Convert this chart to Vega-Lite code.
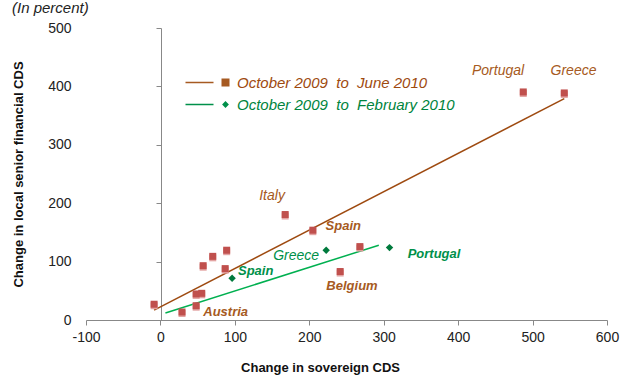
{
  "$schema": "https://vega.github.io/schema/vega-lite/v6.json",
  "width": 521,
  "height": 292,
  "autosize": {"type": "none"},
  "padding": {"left": 86, "top": 28, "right": 29, "bottom": 59},
  "background": "white",
  "config": {"font": "Liberation Sans", "view": {"stroke": null}, "axis": {"grid": false}},
  "title": {"text": "(In percent)", "anchor": "start", "frame": "group", "dx": -74, "offset": 5, "fontSize": 15, "fontStyle": "italic", "fontWeight": "normal", "color": "#222"},
  "datasets": {
    "lines": [
      {"series": "October 2009\u00a0 to\u00a0 June 2010", "x": -8.5, "y": 17},
      {"series": "October 2009\u00a0 to\u00a0 June 2010", "x": 542.6, "y": 379},
      {"series": "October 2009\u00a0 to\u00a0 February 2010", "x": 6.7, "y": 12},
      {"series": "October 2009\u00a0 to\u00a0 February 2010", "x": 293.4, "y": 128}
    ],
    "squares": [
      {"country": "", "x": -8.5, "y": 27},
      {"country": "Austria", "x": 29, "y": 13.7},
      {"country": "", "x": 48, "y": 24.5},
      {"country": "", "x": 48, "y": 44.6},
      {"country": "", "x": 55.5, "y": 45.7},
      {"country": "", "x": 57.4, "y": 93},
      {"country": "", "x": 70.3, "y": 109},
      {"country": "", "x": 87, "y": 88},
      {"country": "", "x": 89, "y": 119.5},
      {"country": "Italy", "x": 167.6, "y": 180.6},
      {"country": "Spain", "x": 204.8, "y": 153.8},
      {"country": "Belgium", "x": 241.5, "y": 83},
      {"country": "", "x": 268, "y": 125.7},
      {"country": "Portugal", "x": 487.5, "y": 390.5},
      {"country": "Greece", "x": 542.6, "y": 388.8}
    ],
    "diamonds": [
      {"country": "Spain", "x": 96.3, "y": 71.5},
      {"country": "Greece", "x": 222.7, "y": 119.5},
      {"country": "Portugal", "x": 307.8, "y": 124}
    ],
    "labelsNormal": [
      {"series": "October 2009\u00a0 to\u00a0 June 2010", "label": "Portugal", "x": 453.6, "y": 426},
      {"series": "October 2009\u00a0 to\u00a0 June 2010", "label": "Greece", "x": 555, "y": 426},
      {"series": "October 2009\u00a0 to\u00a0 June 2010", "label": "Italy", "x": 150, "y": 211.5},
      {"series": "October 2009\u00a0 to\u00a0 February 2010", "label": "Greece", "x": 182.4, "y": 110.3}
    ],
    "labelsBold": [
      {"series": "October 2009\u00a0 to\u00a0 June 2010", "label": "Spain", "x": 245.7, "y": 160.7},
      {"series": "October 2009\u00a0 to\u00a0 June 2010", "label": "Belgium", "x": 257.4, "y": 58.3},
      {"series": "October 2009\u00a0 to\u00a0 June 2010", "label": "Austria", "x": 87.6, "y": 14.3},
      {"series": "October 2009\u00a0 to\u00a0 February 2010", "label": "Spain", "x": 128, "y": 84},
      {"series": "October 2009\u00a0 to\u00a0 February 2010", "label": "Portugal", "x": 367.6, "y": 112.7}
    ]
  },
  "layer": [
    {
      "data": {"name": "lines"},
      "mark": {"type": "line", "strokeWidth": 1.5},
      "encoding": {
        "x": {"field": "x", "type": "quantitative", "scale": {"domain": [-100, 600], "nice": false},
          "axis": {"title": "Change in sovereign CDS", "values": [-100, 0, 100, 200, 300, 400, 500, 600], "labelExpr": "'' + datum.value", "labelFlush": false, "tickSize": 5, "labelPadding": 5, "domainColor": "#888", "tickColor": "#888", "labelFontSize": 14, "labelColor": "#222", "titleFontSize": 13, "titleFontWeight": "bold", "titleColor": "#111", "titlePadding": 17, "titleX": 234, "titleAlign": "center"}},
        "y": {"field": "y", "type": "quantitative", "scale": {"domain": [0, 500], "nice": false},
          "axis": {"title": "Change in local senior financial CDS", "offset": -75, "values": [0, 100, 200, 300, 400, 500], "labelFlush": false, "tickSize": 5, "labelPadding": 85, "domainColor": "#888", "tickColor": "#888", "labelFontSize": 14, "labelColor": "#222", "titleFontSize": 13, "titleFontWeight": "bold", "titleColor": "#111", "titlePadding": 22}},
        "stroke": {"field": "series", "type": "nominal",
          "scale": {"domain": ["October 2009\u00a0 to\u00a0 June 2010", "October 2009\u00a0 to\u00a0 February 2010"], "range": ["#9E4A10", "#00B050"]},
          "legend": {"orient": "none", "legendX": 132, "legendY": 47, "title": null, "symbolSize": 64, "symbolStrokeWidth": 0, "symbolOpacity": 1, "labelFontSize": 15, "labelFontStyle": "italic", "labelOffset": 4, "rowPadding": 6, "padding": 0, "labelLimit": 400,
            "encode": {
              "symbols": {"update": {
                "shape": {"signal": "indexof(datum.value, 'June') >= 0 ? 'M-10,-0.2H-3V0.2H-10Z M-1,-1H1V1H-1Z' : 'M-10,-0.2H-3V0.2H-10Z M0,-0.85L0.85,0L0,0.85L-0.85,0Z'"},
                "fill": {"signal": "indexof(datum.value, 'June') >= 0 ? '#9E4A0F' : '#007A3D'"},
                "strokeWidth": {"value": 0},
                "opacity": {"value": 1}
              }},
              "labels": {"update": {"fill": {"signal": "indexof(datum.value, 'June') >= 0 ? '#9E4A0F' : '#00843D'"}}}
            }}},
        "detail": {"field": "series"}
      }
    },
    {
      "data": {"name": "squares"},
      "mark": {"type": "point", "shape": "square", "filled": true, "size": 49, "color": "#E3A3A2", "opacity": 1, "yOffset": 1.5},
      "encoding": {
        "x": {"field": "x", "type": "quantitative"},
        "y": {"field": "y", "type": "quantitative"}
      }
    },
    {
      "data": {"name": "squares"},
      "mark": {"type": "point", "shape": "square", "filled": true, "size": 49, "color": "#C0504D", "opacity": 1},
      "encoding": {
        "x": {"field": "x", "type": "quantitative"},
        "y": {"field": "y", "type": "quantitative"}
      }
    },
    {
      "data": {"name": "diamonds"},
      "mark": {"type": "point", "shape": "diamond", "filled": true, "size": 55, "color": "#007A3D", "opacity": 1},
      "encoding": {
        "x": {"field": "x", "type": "quantitative"},
        "y": {"field": "y", "type": "quantitative"}
      }
    },
    {
      "data": {"name": "labelsNormal"},
      "mark": {"type": "text", "fontSize": 14, "fontStyle": "italic", "fontWeight": "normal", "align": "center", "baseline": "middle"},
      "encoding": {
        "x": {"field": "x", "type": "quantitative"},
        "y": {"field": "y", "type": "quantitative"},
        "text": {"field": "label"},
        "fill": {"field": "series", "type": "nominal", "legend": null,
          "scale": {"domain": ["October 2009\u00a0 to\u00a0 June 2010", "October 2009\u00a0 to\u00a0 February 2010"], "range": ["#A65A22", "#00904A"]}}
      }
    },
    {
      "data": {"name": "labelsBold"},
      "mark": {"type": "text", "fontSize": 13, "fontStyle": "italic", "fontWeight": "bold", "align": "center", "baseline": "middle"},
      "encoding": {
        "x": {"field": "x", "type": "quantitative"},
        "y": {"field": "y", "type": "quantitative"},
        "text": {"field": "label"},
        "fill": {"field": "series", "type": "nominal", "legend": null}
      }
    }
  ]
}
